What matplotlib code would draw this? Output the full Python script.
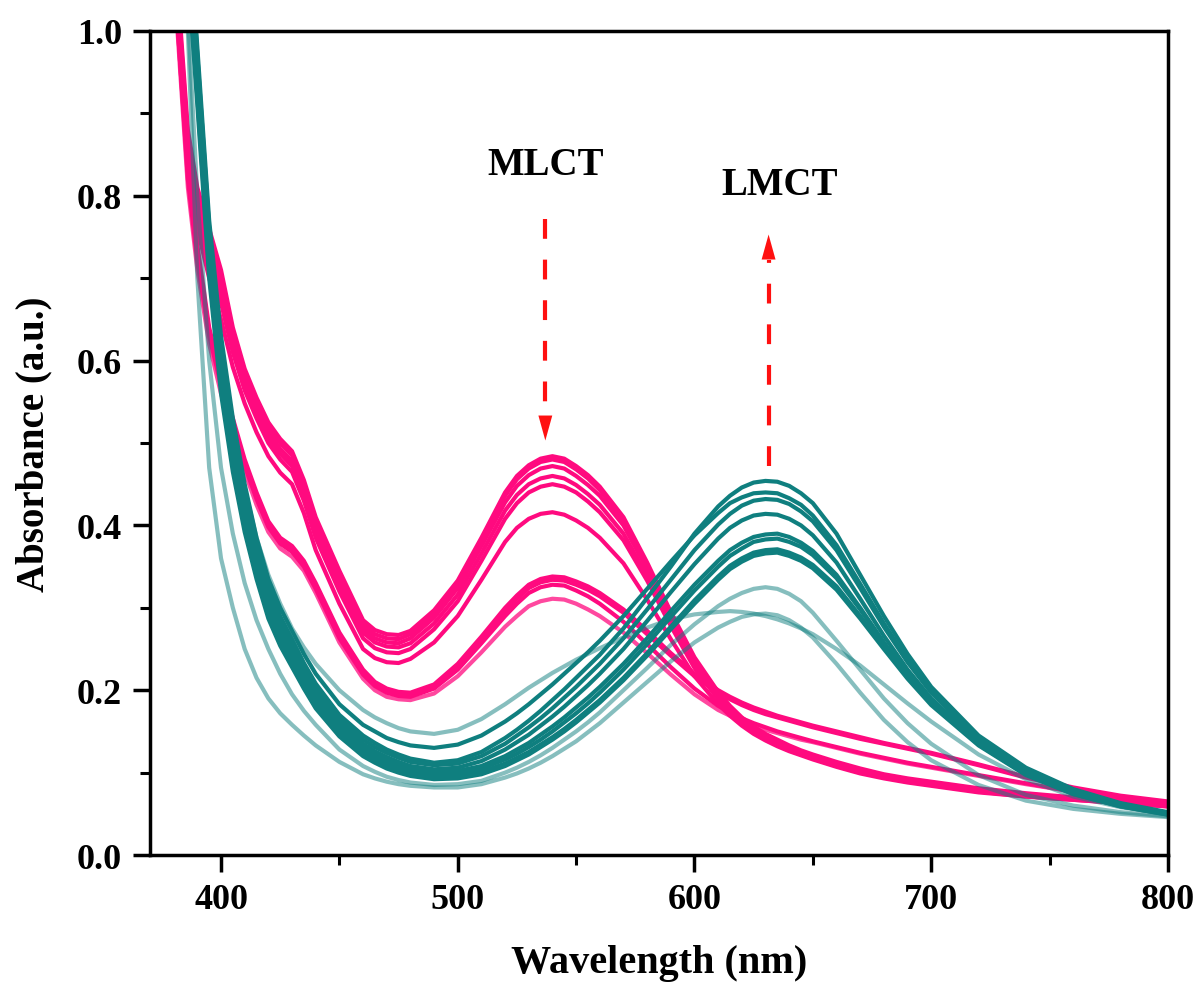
import matplotlib.pyplot as plt
from matplotlib.ticker import MultipleLocator, FormatStrFormatter

plt.rcParams['font.family'] = ['Liberation Serif', 'DejaVu Serif']
plt.rcParams['font.weight'] = 'bold'

# wavelength grid (nm)
wavelength = [380, 383, 386, 390, 395, 400, 405, 410, 415, 420, 425, 430, 435,
              440, 450, 460, 465, 470, 475, 480, 490, 500,
              510, 520, 525, 530, 535, 540, 545, 550, 555, 560,
              570, 580, 590, 600, 610, 615, 620, 625, 630, 635, 640, 645,
              650, 660, 670, 680, 690, 700, 720, 740, 760, 780, 800]

# pink spectra, strong MLCT band
pink_a1 = [1.12, 1.0, 0.88, 0.81, 0.76, 0.71, 0.64, 0.59, 0.555, 0.525, 0.505, 0.49, 0.455,
           0.41, 0.345, 0.285, 0.273, 0.268, 0.267, 0.272, 0.297, 0.333,
           0.385, 0.44, 0.46, 0.473, 0.481, 0.484, 0.481, 0.472, 0.461, 0.447,
           0.41, 0.355, 0.295, 0.24, 0.198, 0.181, 0.167, 0.156, 0.147, 0.14, 0.133, 0.127,
           0.122, 0.113, 0.105, 0.098, 0.093, 0.089, 0.081, 0.075, 0.07, 0.066, 0.062]
pink_a2 = [1.12, 0.99, 0.87, 0.80, 0.75, 0.70, 0.635, 0.585, 0.55, 0.52, 0.50, 0.485, 0.45,
           0.405, 0.34, 0.28, 0.268, 0.263, 0.262, 0.268, 0.293, 0.33,
           0.382, 0.436, 0.456, 0.469, 0.477, 0.48, 0.477, 0.468, 0.457, 0.443,
           0.406, 0.352, 0.292, 0.237, 0.196, 0.179, 0.165, 0.154, 0.145, 0.138, 0.131, 0.125,
           0.12, 0.111, 0.103, 0.097, 0.092, 0.088, 0.08, 0.074, 0.069, 0.065, 0.061]
pink_a3 = [1.11, 0.98, 0.86, 0.79, 0.74, 0.69, 0.625, 0.578, 0.543, 0.513, 0.493, 0.478, 0.443,
           0.398, 0.333, 0.275, 0.263, 0.258, 0.257, 0.263, 0.288, 0.324,
           0.375, 0.428, 0.448, 0.461, 0.469, 0.472, 0.469, 0.46, 0.449, 0.436,
           0.4, 0.347, 0.288, 0.234, 0.194, 0.177, 0.163, 0.152, 0.143, 0.136, 0.13, 0.124,
           0.119, 0.11, 0.102, 0.096, 0.091, 0.087, 0.079, 0.073, 0.068, 0.064, 0.06]
pink_a4 = [1.10, 0.97, 0.85, 0.78, 0.73, 0.68, 0.618, 0.571, 0.537, 0.507, 0.487, 0.472, 0.437,
           0.392, 0.327, 0.27, 0.258, 0.253, 0.252, 0.257, 0.281, 0.316,
           0.366, 0.418, 0.437, 0.45, 0.457, 0.46, 0.457, 0.449, 0.438, 0.425,
           0.39, 0.339, 0.282, 0.23, 0.191, 0.175, 0.161, 0.15, 0.141, 0.134, 0.128, 0.123,
           0.118, 0.109, 0.101, 0.095, 0.09, 0.086, 0.078, 0.072, 0.068, 0.064, 0.06]
pink_a5 = [1.09, 0.96, 0.84, 0.77, 0.72, 0.67, 0.61, 0.564, 0.53, 0.5, 0.48, 0.465, 0.43,
           0.385, 0.32, 0.263, 0.251, 0.246, 0.245, 0.25, 0.274, 0.308,
           0.357, 0.408, 0.427, 0.44, 0.447, 0.45, 0.447, 0.44, 0.429, 0.416,
           0.382, 0.333, 0.278, 0.227, 0.189, 0.173, 0.16, 0.149, 0.14, 0.133, 0.127, 0.122,
           0.117, 0.108, 0.1, 0.094, 0.089, 0.085, 0.077, 0.071, 0.067, 0.063, 0.059]
pink_a6 = [1.08, 0.95, 0.83, 0.76, 0.70, 0.65, 0.592, 0.548, 0.513, 0.484, 0.464, 0.45, 0.415,
           0.37, 0.305, 0.25, 0.239, 0.234, 0.233, 0.238, 0.258, 0.29,
           0.334, 0.38, 0.397, 0.408, 0.414, 0.416, 0.413, 0.406, 0.397, 0.385,
           0.354, 0.31, 0.262, 0.217, 0.183, 0.169, 0.157, 0.147, 0.139, 0.132, 0.126, 0.121,
           0.116, 0.107, 0.099, 0.093, 0.088, 0.084, 0.076, 0.071, 0.067, 0.063, 0.059]

# pink spectra, weaker MLCT band
pink_b1 = [1.1, 0.97, 0.84, 0.74, 0.64, 0.58, 0.53, 0.48, 0.44, 0.405, 0.385, 0.375, 0.357,
           0.33, 0.27, 0.225, 0.21, 0.202, 0.198, 0.197, 0.207, 0.232,
           0.265, 0.3, 0.315, 0.328, 0.335, 0.338, 0.337, 0.332, 0.326, 0.318,
           0.298, 0.272, 0.245, 0.22, 0.2, 0.192, 0.185, 0.179, 0.174, 0.169, 0.165, 0.161,
           0.157, 0.15, 0.143, 0.136, 0.13, 0.124, 0.11, 0.095, 0.082, 0.072, 0.065]
pink_b2 = [1.09, 0.96, 0.83, 0.73, 0.635, 0.575, 0.525, 0.476, 0.436, 0.402, 0.382, 0.372, 0.354,
           0.327, 0.267, 0.222, 0.208, 0.2, 0.196, 0.195, 0.205, 0.229,
           0.262, 0.296, 0.311, 0.324, 0.331, 0.334, 0.333, 0.328, 0.322, 0.314,
           0.294, 0.268, 0.242, 0.217, 0.197, 0.189, 0.182, 0.176, 0.171, 0.167, 0.163, 0.159,
           0.155, 0.148, 0.141, 0.135, 0.129, 0.123, 0.109, 0.094, 0.081, 0.071, 0.064]
pink_b3 = [1.08, 0.95, 0.82, 0.72, 0.63, 0.57, 0.52, 0.472, 0.432, 0.398, 0.378, 0.368, 0.35,
           0.323, 0.263, 0.219, 0.205, 0.197, 0.193, 0.192, 0.202, 0.225,
           0.257, 0.29, 0.305, 0.318, 0.325, 0.328, 0.327, 0.321, 0.314, 0.305,
           0.283, 0.256, 0.228, 0.202, 0.181, 0.173, 0.166, 0.16, 0.155, 0.15, 0.146, 0.142,
           0.138, 0.131, 0.124, 0.118, 0.112, 0.107, 0.097, 0.087, 0.077, 0.07, 0.064]
pink_b4 = [1.07, 0.94, 0.81, 0.71, 0.62, 0.56, 0.51, 0.465, 0.425, 0.392, 0.372, 0.362, 0.345,
           0.318, 0.258, 0.214, 0.2, 0.192, 0.189, 0.188, 0.196, 0.217,
           0.246, 0.277, 0.29, 0.302, 0.308, 0.311, 0.31, 0.305, 0.298, 0.29,
           0.27, 0.245, 0.219, 0.195, 0.176, 0.169, 0.162, 0.157, 0.152, 0.148, 0.144, 0.14,
           0.137, 0.13, 0.123, 0.117, 0.111, 0.106, 0.096, 0.086, 0.077, 0.07, 0.064]

# dark teal spectra (LMCT band)
teal_1 = [1.6, 1.35, 1.15, 0.97, 0.76, 0.62, 0.52, 0.44, 0.375, 0.325, 0.29, 0.262, 0.233,
          0.208, 0.17, 0.145, 0.136, 0.128, 0.122, 0.117, 0.112, 0.115,
          0.125, 0.142, 0.152, 0.163, 0.175, 0.188, 0.201, 0.215, 0.229, 0.243,
          0.275, 0.312, 0.35, 0.39, 0.423, 0.436, 0.446, 0.452, 0.454, 0.453, 0.448, 0.439,
          0.427, 0.39, 0.34, 0.29, 0.244, 0.204, 0.145, 0.106, 0.08, 0.063, 0.052]
teal_2 = [1.6, 1.35, 1.15, 0.98, 0.77, 0.63, 0.53, 0.45, 0.385, 0.335, 0.3, 0.272, 0.244,
          0.22, 0.183, 0.158, 0.15, 0.142, 0.137, 0.133, 0.13, 0.134,
          0.145, 0.162, 0.172, 0.183, 0.195, 0.207, 0.22, 0.233, 0.246, 0.26,
          0.29, 0.323, 0.356, 0.388, 0.415, 0.427, 0.434, 0.439, 0.44, 0.439, 0.433, 0.425,
          0.412, 0.376, 0.329, 0.281, 0.237, 0.199, 0.142, 0.104, 0.079, 0.062, 0.051]
teal_3 = [1.55, 1.32, 1.13, 0.96, 0.75, 0.61, 0.51, 0.43, 0.368, 0.318, 0.283, 0.256, 0.227,
          0.202, 0.165, 0.14, 0.131, 0.124, 0.118, 0.113, 0.109, 0.111,
          0.12, 0.135, 0.145, 0.155, 0.166, 0.178, 0.191, 0.204, 0.218, 0.232,
          0.263, 0.298, 0.334, 0.37, 0.401, 0.414, 0.424, 0.43, 0.432, 0.431, 0.426, 0.417,
          0.405, 0.37, 0.324, 0.277, 0.234, 0.197, 0.141, 0.103, 0.078, 0.062, 0.051]
teal_4 = [1.55, 1.3, 1.12, 0.95, 0.74, 0.6, 0.5, 0.425, 0.362, 0.312, 0.277, 0.25, 0.222,
          0.197, 0.16, 0.135, 0.126, 0.119, 0.113, 0.108, 0.104, 0.106,
          0.114, 0.128, 0.137, 0.146, 0.157, 0.168, 0.18, 0.193, 0.206, 0.22,
          0.25, 0.284, 0.319, 0.353, 0.384, 0.397, 0.406, 0.412, 0.414, 0.413, 0.408, 0.4,
          0.388, 0.355, 0.311, 0.266, 0.225, 0.19, 0.137, 0.1, 0.076, 0.06, 0.05]
teal_5 = [1.5, 1.28, 1.1, 0.94, 0.73, 0.59, 0.49, 0.415, 0.355, 0.305, 0.27, 0.244, 0.217,
          0.192, 0.156, 0.131, 0.122, 0.115, 0.11, 0.105, 0.101, 0.102,
          0.108, 0.12, 0.128, 0.136, 0.146, 0.156, 0.167, 0.179, 0.191, 0.204,
          0.232, 0.263, 0.296, 0.328, 0.357, 0.37, 0.379, 0.386, 0.389, 0.39, 0.386, 0.379,
          0.369, 0.34, 0.3, 0.258, 0.219, 0.186, 0.135, 0.099, 0.075, 0.06, 0.05]
teal_6 = [1.5, 1.27, 1.09, 0.93, 0.72, 0.58, 0.485, 0.41, 0.35, 0.3, 0.266, 0.24, 0.213,
          0.188, 0.152, 0.128, 0.119, 0.112, 0.107, 0.102, 0.098, 0.099,
          0.105, 0.116, 0.123, 0.131, 0.14, 0.15, 0.161, 0.172, 0.184, 0.197,
          0.225, 0.256, 0.289, 0.321, 0.35, 0.363, 0.372, 0.38, 0.383, 0.384, 0.38, 0.374,
          0.364, 0.336, 0.298, 0.257, 0.219, 0.186, 0.135, 0.099, 0.075, 0.06, 0.05]
teal_7 = [1.45, 1.25, 1.08, 0.92, 0.71, 0.57, 0.475, 0.4, 0.342, 0.293, 0.26, 0.234, 0.207,
          0.183, 0.148, 0.124, 0.115, 0.108, 0.103, 0.099, 0.095, 0.096,
          0.101, 0.111, 0.118, 0.125, 0.134, 0.143, 0.153, 0.164, 0.176, 0.188,
          0.215, 0.245, 0.277, 0.309, 0.338, 0.351, 0.36, 0.367, 0.37, 0.371, 0.367, 0.361,
          0.352, 0.326, 0.29, 0.252, 0.216, 0.184, 0.134, 0.098, 0.074, 0.059, 0.049]
teal_8 = [1.45, 1.24, 1.07, 0.91, 0.7, 0.56, 0.465, 0.392, 0.335, 0.287, 0.254, 0.228, 0.202,
          0.178, 0.144, 0.12, 0.112, 0.105, 0.1, 0.096, 0.092, 0.093,
          0.098, 0.108, 0.115, 0.122, 0.131, 0.14, 0.15, 0.161, 0.173, 0.185,
          0.212, 0.242, 0.274, 0.305, 0.334, 0.347, 0.356, 0.363, 0.366, 0.367, 0.363, 0.357,
          0.348, 0.322, 0.287, 0.25, 0.214, 0.182, 0.133, 0.097, 0.074, 0.059, 0.049]

# light teal spectra
light_1 = [1.6, 1.35, 1.15, 0.97, 0.76, 0.62, 0.52, 0.445, 0.385, 0.34, 0.305, 0.275, 0.252,
           0.232, 0.2, 0.176, 0.167, 0.16, 0.154, 0.15, 0.147, 0.152,
           0.165, 0.183, 0.193, 0.203, 0.212, 0.221, 0.229, 0.237, 0.244, 0.251,
           0.264, 0.276, 0.286, 0.292, 0.295, 0.296, 0.295, 0.293, 0.29, 0.286, 0.281, 0.275,
           0.268, 0.25, 0.23, 0.207, 0.184, 0.162, 0.122, 0.092, 0.071, 0.058, 0.05]
light_2 = [1.4, 1.2, 1.02, 0.8, 0.6, 0.47, 0.39, 0.33, 0.285, 0.25, 0.22, 0.195, 0.175,
           0.158, 0.128, 0.108, 0.101, 0.095, 0.091, 0.088, 0.085, 0.086,
           0.09, 0.1, 0.106, 0.113, 0.121, 0.13, 0.14, 0.15, 0.161, 0.173,
           0.2, 0.227, 0.255, 0.28, 0.302, 0.311, 0.318, 0.323, 0.325, 0.323, 0.317, 0.308,
           0.294, 0.26, 0.225, 0.19, 0.16, 0.135, 0.097, 0.073, 0.06, 0.052, 0.047]
light_3 = [1.3, 1.15, 1.0, 0.7, 0.47, 0.36, 0.3, 0.25, 0.215, 0.19, 0.172, 0.158, 0.145,
           0.133, 0.113, 0.098, 0.093, 0.089, 0.086, 0.084, 0.082, 0.082,
           0.086, 0.094, 0.099, 0.105, 0.112, 0.12, 0.129, 0.138, 0.149, 0.16,
           0.185, 0.21, 0.235, 0.258, 0.276, 0.283, 0.289, 0.292, 0.293, 0.291, 0.285, 0.276,
           0.264, 0.232, 0.197, 0.164, 0.137, 0.115, 0.085, 0.066, 0.056, 0.05, 0.046]

pink = '#FF0A7F'
teal = '#0F7F7F'
red = '#FF1010'

fig = plt.figure(figsize=(11.99, 9.87), dpi=100)
ax = fig.add_axes([0.1251, 0.1327, 0.849, 0.8349])

for s in [pink_a1, pink_a2, pink_a3, pink_a4, pink_a5, pink_a6, pink_b1, pink_b2, pink_b3]:
    ax.plot(wavelength, s, color=pink, lw=3, solid_joinstyle='round')
ax.plot(wavelength, pink_b4, color=pink, lw=3, alpha=0.75, solid_joinstyle='round')

for s in [light_1, light_2, light_3]:
    ax.plot(wavelength, s, color=teal, lw=3, alpha=0.5, solid_joinstyle='round')
for s in [teal_1, teal_2, teal_3, teal_4, teal_5, teal_6, teal_7, teal_8]:
    ax.plot(wavelength, s, color=teal, lw=3, solid_joinstyle='round')

# annotations
ax.text(537, 0.838, 'MLCT', ha='center', va='center', fontsize=28, fontweight='bold')
ax.text(636, 0.814, 'LMCT', ha='center', va='center', fontsize=28, fontweight='bold')

ax.plot([537, 537], [0.772, 0.535], color=red, lw=3, linestyle=(0, (4.75, 5)))
ax.annotate('', xy=(537, 0.503), xytext=(537, 0.535),
            arrowprops=dict(arrowstyle='-|>,head_length=0.9,head_width=0.25',
                            color=red, lw=0, mutation_scale=20, shrinkA=0, shrinkB=0))
ax.plot([631.3, 631.3], [0.472, 0.722], color=red, lw=3, linestyle=(0, (4.75, 5)))
ax.annotate('', xy=(631.3, 0.753), xytext=(631.3, 0.722),
            arrowprops=dict(arrowstyle='-|>,head_length=0.9,head_width=0.25',
                            color=red, lw=0, mutation_scale=20, shrinkA=0, shrinkB=0))

ax.set_xlim(370, 800)
ax.set_ylim(0, 1.0)
ax.xaxis.set_major_locator(MultipleLocator(100))
ax.xaxis.set_minor_locator(MultipleLocator(50))
ax.yaxis.set_major_locator(MultipleLocator(0.2))
ax.yaxis.set_minor_locator(MultipleLocator(0.1))
ax.yaxis.set_major_formatter(FormatStrFormatter('%.1f'))

ax.tick_params(which='major', direction='out', length=12, width=2.5, labelsize=26, pad=8)
ax.tick_params(which='minor', direction='out', length=7, width=2.2)
for sp in ax.spines.values():
    sp.set_linewidth(2.5)

ax.set_xlabel('Wavelength (nm)', fontsize=29, fontweight='bold', labelpad=20)
ax.set_ylabel('Absorbance (a.u.)', fontsize=28, fontweight='bold', labelpad=18)

fig.savefig('out.png', dpi=100)
